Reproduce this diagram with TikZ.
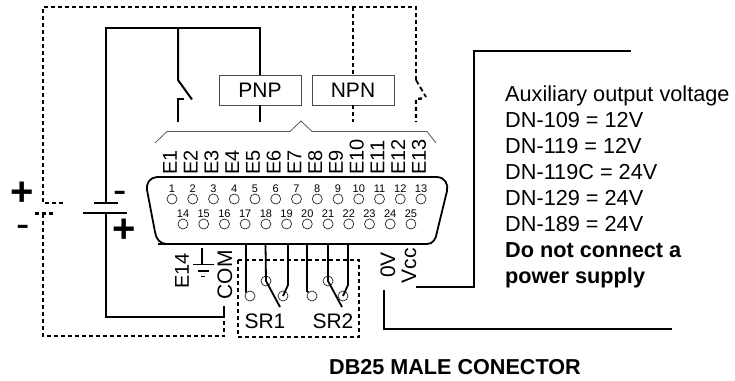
\documentclass[tikz,border=0pt]{standalone}
\usepackage{fontspec}
\setmainfont{Liberation Sans}
\newcommand{\fs}[1]{\fontsize{#1}{#1}\selectfont}
\tikzset{
  wire/.style={line width=2pt,black,line join=miter},
  dwire/.style={line width=2.3pt,black,dash pattern=on 4pt off 3pt},
  thinw/.style={line width=0.8pt,black!65},
  shell/.style={line width=1.8pt,black},
  pin/.style={circle,draw=black!85,line width=0.7pt,minimum size=10pt,inner sep=0pt},
  pinlab/.style={inner sep=0pt,font=\fs{11}},
  lab/.style={inner sep=0pt,font=\fs{21}},
  vlab/.style={inner sep=0pt,font=\fs{20},rotate=90,anchor=west},
  vlabb/.style={inner sep=0pt,font=\fs{21},rotate=90,anchor=west},
  boxn/.style={draw=black!70,line width=0.9pt,minimum width=82pt,minimum height=30pt,inner sep=0pt,font=\fs{21}},
  txt/.style={inner sep=0pt,anchor=base west,font=\fs{21.7}},
  btxt/.style={inner sep=0pt,anchor=base west,font=\fs{21.7}\bfseries},
  plus/.style={inner sep=0pt,font=\fs{40}\bfseries},
  minus/.style={inner sep=0pt,font=\fs{40}}
}
\begin{document}
\begin{tikzpicture}[x=1pt,y=-1pt]
\useasboundingbox (0,0) rectangle (735,380);
% boxes
\node[boxn] (pnp) at (260,90) {PNP};
\node[boxn] (npn) at (353,90) {NPN};
% named points
\coordinate (tl) at (43,7);
\coordinate (tr) at (416,7);
\coordinate (comtop) at (224,306);
\coordinate (batA) at (106,203);
\coordinate (batB) at (106,213);
% outer dashed loop
\draw[dwire] (63,202.7) -- (43,202.7) -- (tl) -- (tr) -- (416,80);
\draw[wire,line width=1.8pt,dash pattern=on 5pt off 3pt] (416,80) -- (426,97);
\draw[dwire] (422,98.5) -- (416,99) -- (416,122);
\draw[dwire] (npn.north |- tl) -- (npn.north);
\draw[dwire] (npn.south) -- (353,122);
\draw[dwire] (35,213.5) -- (55,213.5);
\draw[dwire] (43,213.5) -- (43,336) -- (224,336) -- (224,318);
% battery and supply wire
\draw[wire] (pnp.north) -- (260,28) -- (106,28) -- (batA);
\draw[wire] (94,203) -- (118,203);
\draw[wire] (83,213) -- (127,213);
\draw[wire] (batB) -- (106,317) -- (224,317) -- (comtop);
\draw[wire] (pnp.south) -- (260,122);
% switch
\draw[wire] (178,28) -- (178,80) -- (192,99.5);
\draw[wire] (184,99) -- (178,99) -- (178,122);
% brace
\draw[thinw] (155,143) -- (167,131.5) -- (290,131.5) -- (301,121) -- (312,131.5) -- (427,131.5) -- (436,143);
% connector shell
\draw[shell] (158,244) -- (427,244)
  .. controls (433,244) and (436,239) .. (437,232)
  -- (447,191) .. controls (448.5,184) and (445,177.5) .. (437,177)
  -- (157,177) .. controls (150,177.5) and (146,183) .. (147,190)
  -- (155,232) .. controls (156,239) and (160,244) .. (167,244) -- (427,244);
% pins
\foreach \i in {1,...,13}{
  \pgfmathsetmacro{\px}{172+(\i-1)*20.75}
  \node[pin] (p\i) at (\px,199) {};
  \node[pinlab] (pl\i) at (\px,188.5) {\i};
}
\foreach \i in {14,...,25}{
  \pgfmathsetmacro{\px}{183+(\i-14)*20.72}
  \node[pin] (p\i) at (\px,224) {};
  \node[pinlab] (pl\i) at (\px,213.5) {\i};
}
% E labels
\foreach \i in {1,...,13}{
  \pgfmathsetmacro{\px}{170+(\i-1)*20.75}
  \node[vlab] (e\i) at (\px,175) {E\i};
}
% terminals under the connector
\node[pin] (a1) at (250,296) {};
\node[pin] (a2) at (266,281) {};
\node[pin] (a3) at (283,296) {};
\node[pin] (b1) at (312,296) {};
\node[pin] (b2) at (328,281) {};
\node[pin] (b3) at (343,296) {};
\tikzset{wire/.append style={line width=1.8pt}}
\draw[wire] (246,244) -- (246,292) -- (a1);
\draw[wire] (265.5,244) -- (a2.center) -- (280,307);
\draw[wire] (288,244) -- (288,285) -- (a3.center);
\draw[wire] (307,244) -- (307,291) -- (b1);
\draw[wire] (328,244) -- (b2.center) -- (342,307);
\draw[wire] (348,244) -- (348,285) -- (b3.center);
% SR dashed box
\draw[dwire] (238,260) -- (359,260) -- (359,337) -- (238,337) -- cycle;
\node[lab,anchor=base] (sr1) at (265,328) {SR1};
\node[lab,anchor=base] (sr2) at (333,328) {SR2};
% ground
\draw[wire] (202,248) -- (202,264.5);
\draw[wire] (193,264.5) -- (214,264.5);
\draw[wire] (198,271) -- (209,271);
\draw[wire] (201,276.5) -- (205,276.5);
% rotated labels
\node[vlab] (e14) at (182,289) {E14};
\node[vlabb] (com) at (225,299.5) {COM};
\node[vlabb] (zv) at (388,278) {0V};
\node[vlabb] (vcc) at (409,283.5) {Vcc};
% output wires
\draw[wire,line width=2pt] (416,287) -- (474,287) -- (474,50.7) -- (631,50.7);
\draw[wire,line width=2pt] (384,290) -- (384,328.5) -- (672,328.5);
% text block
\node[txt] (t1) at (505,101.5) {Auxiliary output voltage};
\node[txt] (t2) at (505,127.5) {DN-109 = 12V};
\node[txt] (t3) at (505,153.5) {DN-119 = 12V};
\node[txt] (t4) at (505,179.5) {DN-119C = 24V};
\node[txt] (t5) at (505,205.5) {DN-129 = 24V};
\node[txt] (t6) at (505,231.5) {DN-189 = 24V};
\node[btxt] (t7) at (505,257.5) {Do not connect a};
\node[btxt] (t8) at (505,283.5) {power supply};
\node[inner sep=0pt,anchor=base,font=\fs{21.6}\bfseries] (title) at (455,374) {DB25 MALE CONECTOR};
% polarity
\node[plus] (pl) at (22,194) {+};
\node[minus] (ml) at (23,231) {-};
\node[minus] (mr) at (120.5,197) {-};
\node[plus] (pr) at (124,231) {+};
\end{tikzpicture}
\end{document}
